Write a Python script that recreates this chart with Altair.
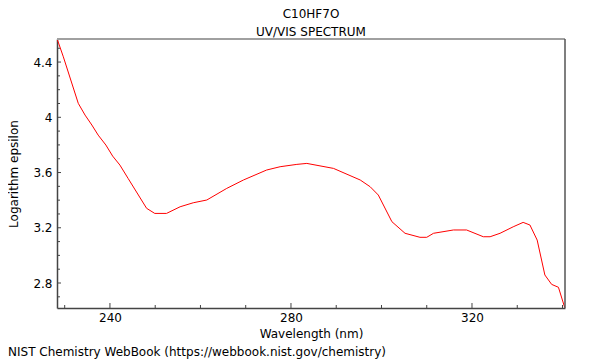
import altair as alt
import pandas as pd

# Data
wavelength = [228.4, 229.7, 233.0, 234.5, 236.0, 237.4, 239.1, 240.6, 242.2, 244.0,
              248.1, 249.9, 252.5, 255.5, 258.4, 261.4, 265.8, 269.5, 274.6, 277.6,
              281.3, 283.5, 289.4, 295.3, 297.5, 299.3, 302.3, 305.2, 308.5, 310.0,
              311.5, 315.9, 318.8, 322.5, 324.0, 326.2, 329.1, 331.3, 332.8, 334.4,
              336.1, 337.6, 339.1, 340.5]
log_eps = [4.561, 4.438, 4.101, 4.016, 3.944, 3.871, 3.799, 3.719, 3.654, 3.558,
           3.341, 3.304, 3.304, 3.352, 3.381, 3.401, 3.485, 3.546, 3.618, 3.642,
           3.659, 3.666, 3.630, 3.546, 3.497, 3.437, 3.244, 3.160, 3.131, 3.131,
           3.160, 3.184, 3.184, 3.135, 3.135, 3.160, 3.207, 3.239, 3.220, 3.111,
           2.858, 2.790, 2.769, 2.621]

x_major = [240, 280, 320]
x_minor = [230, 250, 260, 270, 290, 300, 310, 330, 340]
y_major = [2.8, 3.2, 3.6, 4.0, 4.4]
y_minor = [2.7, 2.9, 3.0, 3.1, 3.3, 3.4, 3.5, 3.7, 3.8, 3.9, 4.1, 4.2, 4.3, 4.5]

title_lines = ["C10HF7O", "UV/VIS SPECTRUM"]
x_title = "Wavelength (nm)"
y_title = "Logarithm epsilon"
footer = "NIST Chemistry WebBook (https://webbook.nist.gov/chemistry)"

W, H = 508, 269
FONT = "DejaVu Sans"
AXC = "#444444"

xscale = alt.Scale(domain=[228.3, 340.55], nice=False, zero=False)
yscale = alt.Scale(domain=[2.619, 4.567], nice=False, zero=False)

xaxis = alt.Axis(values=x_major, title=x_title, tickSize=0, labelPadding=4,
                 titlePadding=5, grid=False, domainColor=AXC, domainWidth=1.5,
                 format="d")
yaxis = alt.Axis(values=y_major, title=y_title, tickSize=0, labelPadding=5,
                 titlePadding=12, grid=False, domainColor=AXC, domainWidth=1.5,
                 format="~g")

df = pd.DataFrame({"wl": wavelength, "le": log_eps})

line = alt.Chart(df).mark_line(color="#ff0000", strokeWidth=1, clip=True).encode(
    x=alt.X("wl:Q", scale=xscale, axis=xaxis),
    y=alt.Y("le:Q", scale=yscale, axis=yaxis),
)

def xticks(vals, length):
    return alt.Chart(pd.DataFrame({"wl": vals})).mark_rule(color=AXC, strokeWidth=1).encode(
        x=alt.X("wl:Q", scale=xscale, axis=xaxis),
        y=alt.value(H), y2=alt.value(H - length))

def yticks(vals, length):
    return alt.Chart(pd.DataFrame({"le": vals})).mark_rule(color=AXC, strokeWidth=1).encode(
        y=alt.Y("le:Q", scale=yscale, axis=yaxis),
        x=alt.value(0), x2=alt.value(length))

one = pd.DataFrame({"a": [0]})
top_border = alt.Chart(one).mark_rule(color="#a0a0a0", strokeWidth=2).encode(
    x=alt.value(0), x2=alt.value(W), y=alt.value(0))
right_border = alt.Chart(one).mark_rule(color="#555555", strokeWidth=1.5).encode(
    x=alt.value(W), y=alt.value(0), y2=alt.value(H))

foot = alt.Chart(pd.DataFrame({"t": [footer]})).mark_text(
    align="left", baseline="middle", font=FONT, fontSize=12, color="black").encode(
    text="t:N", x=alt.value(-49), y=alt.value(H + 44))

chart = alt.layer(
    line,
    top_border, right_border,
    xticks(x_major, 5), xticks(x_minor, 3),
    yticks(y_major, 4), yticks(y_minor, 3),
    foot,
).properties(
    width=W, height=H,
    title=alt.TitleParams(text=title_lines, fontSize=12, fontWeight="normal", font=FONT,
                          anchor="middle", offset=-1, lineHeight=18, color="black"),
    autosize=alt.AutoSizeParams(type="none"),
    padding={"left": 49, "top": 31, "right": 27, "bottom": 52},
).configure_view(stroke=None).configure_axis(
    labelFont=FONT, labelFontSize=12, labelColor="black",
    titleFont=FONT, titleFontSize=12, titleFontWeight="normal", titleColor="black",
)

chart.save("out.html", embed_options={"renderer": "svg", "actions": False})
